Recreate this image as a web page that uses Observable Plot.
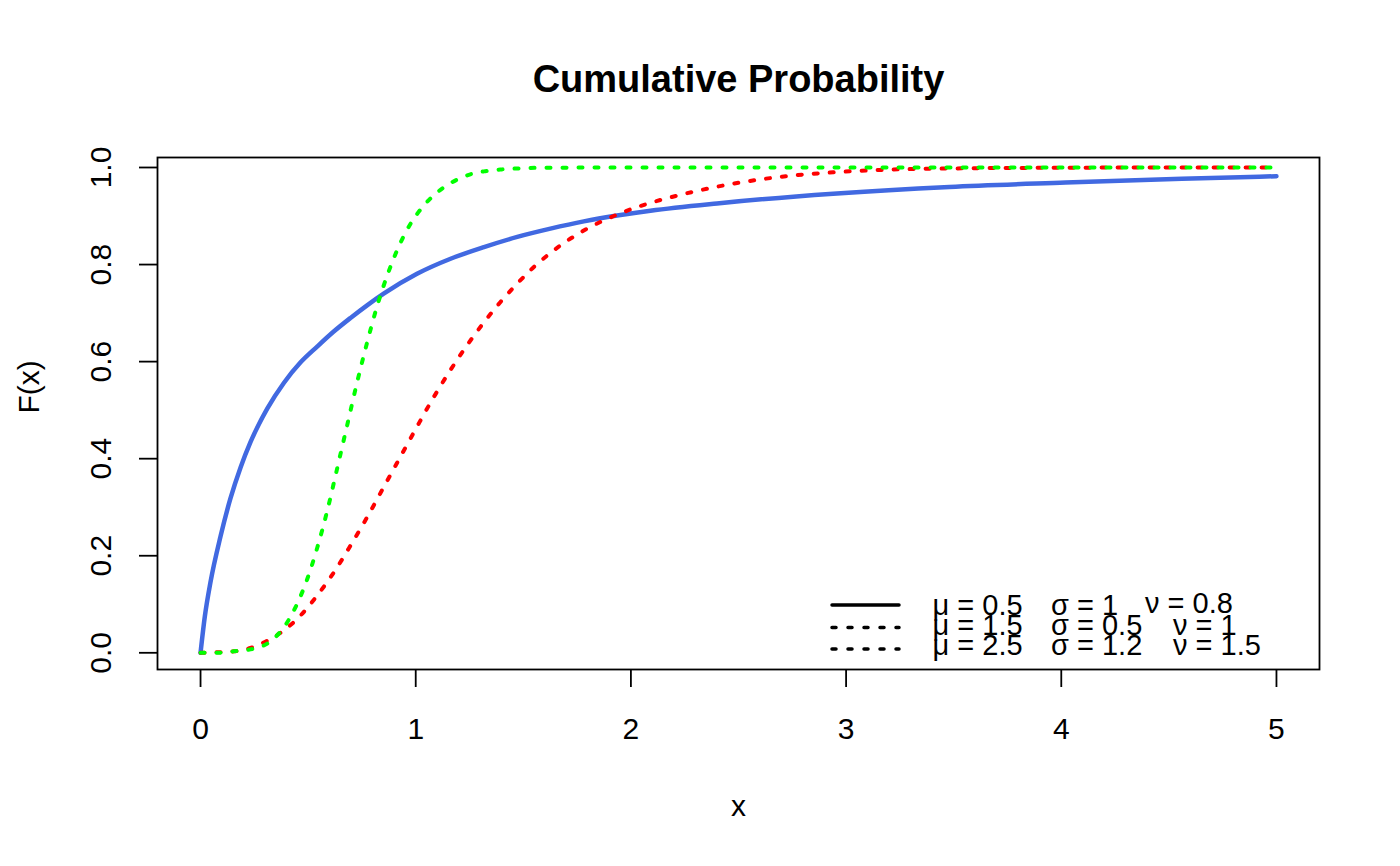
<!DOCTYPE html>
<html>
<head>
<meta charset="utf-8">
<script src="https://cdn.jsdelivr.net/npm/d3@7"></script>
<script src="https://cdn.jsdelivr.net/npm/@observablehq/plot@0.6"></script>
<style>
  html, body { margin: 0; padding: 0; background: #fff; }
  #chart { width: 1400px; height: 866px; }
</style>
</head>
<body>
<div id="chart"></div>
<script>
// ---- data ----
const blueX = [0, 0.02, 0.046, 0.093, 0.139, 0.186, 0.232, 0.31, 0.387, 0.464, 0.542, 0.619, 0.697, 0.774, 0.851, 1.006, 1.162, 1.317, 1.472, 1.626, 1.781, 1.936, 2.091, 2.4, 2.94, 3.48, 4.02, 4.56, 5.0];
const blueF = [0, 0.075, 0.145, 0.240, 0.318, 0.382, 0.434, 0.503, 0.556, 0.598, 0.631, 0.662, 0.690, 0.716, 0.740, 0.781, 0.812, 0.836, 0.857, 0.874, 0.889, 0.901, 0.911, 0.926, 0.946, 0.960, 0.969, 0.977, 0.982];

const greenX = [0, 0.077, 0.155, 0.232, 0.31, 0.356, 0.403, 0.449, 0.496, 0.542, 0.589, 0.635, 0.682, 0.728, 0.775, 0.821, 0.868, 0.914, 0.96, 1.006, 1.068, 1.13, 1.192, 1.254, 1.317, 1.4, 1.472, 1.6, 2.0, 3.0, 4.0, 5.0];
const greenF = [0, 0, 0.003, 0.007, 0.019, 0.036, 0.063, 0.101, 0.152, 0.216, 0.293, 0.380, 0.470, 0.558, 0.641, 0.715, 0.778, 0.830, 0.872, 0.904, 0.936, 0.959, 0.975, 0.986, 0.992, 0.996, 0.998, 0.9995, 1, 1, 1, 1];

const redX = [0, 0.077, 0.155, 0.232, 0.31, 0.387, 0.465, 0.542, 0.62, 0.697, 0.775, 0.852, 0.929, 1.006, 1.084, 1.162, 1.239, 1.317, 1.394, 1.472, 1.549, 1.626, 1.704, 1.781, 1.859, 1.936, 2.013, 2.075, 2.29, 2.507, 2.72, 2.94, 3.16, 3.5, 4.0, 4.5, 5.0];
const redF = [0, 0.001, 0.003, 0.010, 0.025, 0.046, 0.077, 0.118, 0.166, 0.221, 0.280, 0.342, 0.404, 0.466, 0.527, 0.583, 0.634, 0.681, 0.723, 0.761, 0.795, 0.824, 0.849, 0.870, 0.888, 0.903, 0.916, 0.925, 0.950, 0.969, 0.982, 0.990, 0.995, 0.998, 0.9995, 1.0, 1.0];

const xTicks = [0, 1, 2, 3, 4, 5];
const yTicks = [0, 0.2, 0.4, 0.6, 0.8, 1.0];

const titleText = "Cumulative Probability";
const xLabel = "x";
const yLabel = "F(x)";
const legendRows = [
  ["μ = 0.5", "σ = 1", "ν = 0.8"],
  ["μ = 1.5", "σ = 0.5", "ν = 1"],
  ["μ = 2.5", "σ = 1.2", "ν = 1.5"]
];
const legendStyles = ["solid", "dotted", "dotted"];

// ---- build ----
const toRows = (xs, fs) => xs.map((x, i) => ({x, F: fs[i]}));
const blue = toRows(blueX, blueF);
const green = toRows(greenX, greenF);
const red = toRows(redX, redF);

const FONT = "'Liberation Sans', Arial, Helvetica, sans-serif";
const DOT = "4 12";

const plot = Plot.plot({
  width: 1400,
  height: 866,
  marginLeft: 157,
  marginRight: 81,
  marginTop: 157,
  marginBottom: 197,
  x: {domain: [-0.2, 5.2]},
  y: {domain: [-0.0344, 1.0206]},
  style: {fontFamily: FONT, fontSize: "30px", background: "white", color: "black", overflow: "visible"},
  marks: [
    Plot.line(blue, {x: "x", y: "F", stroke: "#4169E1", strokeWidth: 4.5, curve: "monotone-x"}),
    Plot.line(red, {x: "x", y: "F", stroke: "#FF0000", strokeWidth: 4, strokeDasharray: DOT, strokeLinecap: "round", curve: "monotone-x"}),
    Plot.line(green, {x: "x", y: "F", stroke: "#00FF00", strokeWidth: 4, strokeDasharray: DOT, strokeLinecap: "round", curve: "monotone-x"}),
    Plot.frame({stroke: "black", strokeWidth: 1.8}),
    Plot.axisX({ticks: xTicks, tickSize: 18, tickPadding: 30, tickFormat: d => String(d), label: null, fontSize: 30, strokeWidth: 1.8}),
    Plot.axisY({ticks: yTicks, tickSize: 18, tickPadding: 29, tickRotate: -90, tickFormat: d3.format(".1f"), label: null, fontSize: 30, strokeWidth: 1.8}),
    Plot.text([titleText], {frameAnchor: "top", lineAnchor: "top", dy: -92, fontWeight: "bold", fontSize: 38, text: d => d}),
    Plot.text([xLabel], {frameAnchor: "bottom", lineAnchor: "bottom", dy: 146, fontSize: 30, text: d => d}),
    Plot.text([yLabel], {frameAnchor: "left", dx: -128, rotate: -90, fontSize: 30, text: d => d})
  ]
});

// legend (R style, no box) appended into the same svg
const svg = d3.select(plot);
const lg = svg.append("g")
  .attr("font-family", FONT).attr("font-size", 29)
  .attr("fill", "black").attr("text-anchor", "start");
const lineY = [605, 627.5, 649];
const baseY = [614.5, 634.5, 654.5];
const colX = [[932.5, 1051, 1145], [932.5, 1051, 1173], [932.5, 1051, 1173]];
legendRows.forEach((row, i) => {
  lg.append("line")
    .attr("x1", 832).attr("x2", 899).attr("y1", lineY[i]).attr("y2", lineY[i])
    .attr("stroke", "black").attr("stroke-width", 3.5)
    .attr("stroke-linecap", "round")
    .attr("stroke-dasharray", legendStyles[i] === "dotted" ? DOT : null);
  row.forEach((s, j) => {
    lg.append("text")
      .attr("x", colX[i][j])
      .attr("y", baseY[i] - ((i === 0 && j === 2) ? 2 : 0))
      .attr("text-anchor", "start")
      .text(s);
  });
});

document.getElementById("chart").appendChild(plot);
</script>
</body>
</html>
